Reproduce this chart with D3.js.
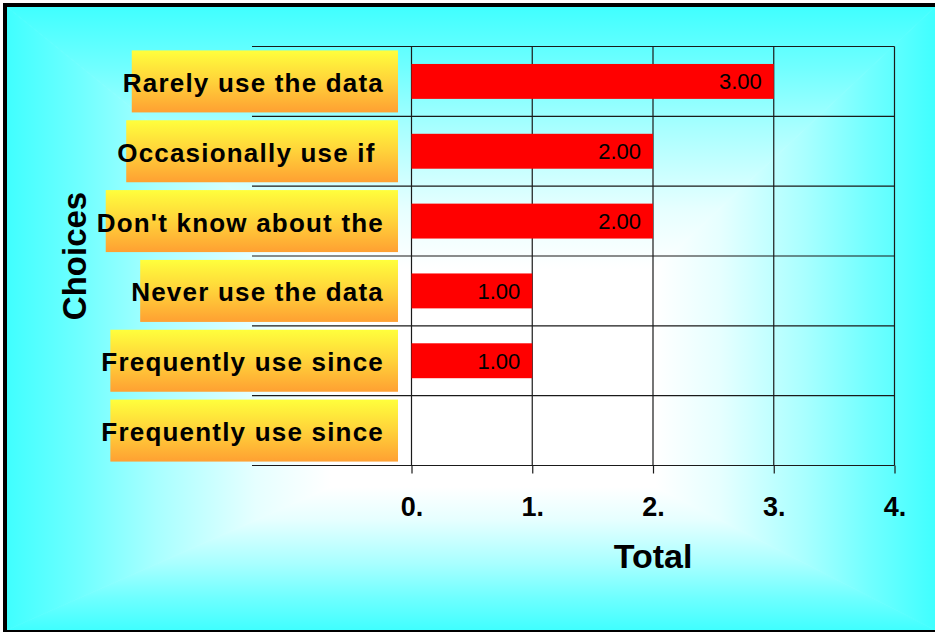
<!DOCTYPE html>
<html>
<head>
<meta charset="utf-8">
<script src="https://cdn.jsdelivr.net/npm/d3@7"></script>
<style>
  body { margin: 0; background: #fff; }
  svg { display: block; font-family: Arial, "Liberation Sans", sans-serif; }
</style>
</head>
<body>
<div id="chart"></div>
<script>
// Chart data
const categories = ["Rarely use the data", "Occasionally use if ", "Don't know about the",
                    "Never use the data", "Frequently use since", "Frequently use since"];
const totals = [3, 2, 2, 1, 1, 0];
const tickValues = [0, 1, 2, 3, 4];
const xTitle = "Total";
const yTitle = "Choices";

const W = 935, H = 632;

const svg = d3.select("#chart")
  .append("svg")
  .attr("width", W)
  .attr("height", H);

const defs = svg.append("defs");

// Rectangular "from center" background gradient, built from four triangles
const frame = { left: 7, top: 7, right: 935, bottom: 630 };
const c = { x: 505, y: 410 };
const bgStops = [
  [0, "#ffffff"], [0.35, "#ffffff"], [0.5, "#e6ffff"],
  [0.7, "#a8ffff"], [0.85, "#70ffff"], [1, "#40ffff"]
];
const sides = [
  { id: "bgTop", x2: c.x, y2: frame.top,
    pts: [[frame.left, frame.top], [frame.right, frame.top], [c.x, c.y]] },
  { id: "bgBottom", x2: c.x, y2: frame.bottom,
    pts: [[frame.left, frame.bottom], [frame.right, frame.bottom], [c.x, c.y]] },
  { id: "bgLeft", x2: frame.left, y2: c.y,
    pts: [[frame.left, frame.top], [frame.left, frame.bottom], [c.x, c.y]] },
  { id: "bgRight", x2: frame.right, y2: c.y,
    pts: [[frame.right, frame.top], [frame.right, frame.bottom], [c.x, c.y]] }
];
sides.forEach(function(s) {
  const g = defs.append("linearGradient")
    .attr("id", s.id)
    .attr("gradientUnits", "userSpaceOnUse")
    .attr("x1", c.x).attr("y1", c.y)
    .attr("x2", s.x2).attr("y2", s.y2);
  bgStops.forEach(function(st) {
    g.append("stop").attr("offset", st[0]).attr("stop-color", st[1]);
  });
});
svg.append("g").selectAll("polygon")
  .data(sides)
  .enter().append("polygon")
  .attr("points", d => d.pts.map(p => p.join(",")).join(" "))
  .attr("fill", d => "url(#" + d.id + ")")
  .attr("stroke", d => "url(#" + d.id + ")")
  .attr("stroke-width", 0.8);

// Label box gradient (yellow to orange)
const boxGrad = defs.append("linearGradient")
  .attr("id", "boxGrad")
  .attr("x1", 0).attr("y1", 0).attr("x2", 0).attr("y2", 1);
boxGrad.append("stop").attr("offset", 0).attr("stop-color", "#ffff3c");
boxGrad.append("stop").attr("offset", 0.5).attr("stop-color", "#ffd23a");
boxGrad.append("stop").attr("offset", 1).attr("stop-color", "#ffa032");

// Outer black frame
svg.append("rect")
  .attr("x", 5).attr("y", 5)
  .attr("width", 935).attr("height", 627)
  .attr("fill", "none")
  .attr("stroke", "#000")
  .attr("stroke-width", 4);

// Scales
const x = d3.scaleLinear()
  .domain([0, 4])
  .range([411.5, 894.5]);

const y = d3.scaleBand()
  .domain(d3.range(categories.length))
  .range([46.5, 465.5])
  .paddingInner(0.5)
  .paddingOuter(0.25);

const step = y.step();
const bandTop = i => y(i) - step * 0.25;

// Horizontal grid lines (category boundaries), extending left behind labels
const hLines = d3.range(categories.length + 1).map(i =>
  i < categories.length ? bandTop(i) : y.range()[1]);
svg.append("g").selectAll("line")
  .data(hLines)
  .enter().append("line")
  .attr("x1", 252).attr("x2", x(4))
  .attr("y1", d => d).attr("y2", d => d)
  .attr("stroke", "#1a1a1a")
  .attr("stroke-width", 1.2);

// Vertical grid lines
svg.append("g").selectAll("line")
  .data(tickValues)
  .enter().append("line")
  .attr("x1", d => x(d)).attr("x2", d => x(d))
  .attr("y1", y.range()[0]).attr("y2", y.range()[1])
  .attr("stroke", "#1a1a1a")
  .attr("stroke-width", 1.2);

// Bottom axis: ticks and labels
const xAxis = svg.append("g")
  .attr("transform", "translate(0," + y.range()[1] + ")")
  .call(d3.axisBottom(x).tickValues(tickValues).tickSize(8).tickFormat(d => d + "."));
xAxis.select(".domain").remove();
xAxis.selectAll(".tick line").attr("stroke", "#1a1a1a").attr("stroke-width", 1.2);
xAxis.selectAll(".tick text")
  .attr("y", 50).attr("dy", null)
  .attr("fill", "#000")
  .style("font-size", "27px")
  .style("font-weight", "bold")
  .style("font-family", "Arial, 'Liberation Sans', sans-serif");

// Bars
const rows = categories.map((name, i) => ({ i: i, name: name, value: totals[i] }));

svg.append("g").selectAll("rect")
  .data(rows.filter(d => d.value > 0))
  .enter().append("rect")
  .attr("x", x(0))
  .attr("y", d => y(d.i))
  .attr("width", d => x(d.value) - x(0))
  .attr("height", y.bandwidth())
  .attr("fill", "#ff0000");

// Value labels inside bars
svg.append("g").selectAll("text")
  .data(rows.filter(d => d.value > 0))
  .enter().append("text")
  .attr("x", d => x(d.value) - 12)
  .attr("y", d => y(d.i) + y.bandwidth() / 2 + 8)
  .attr("text-anchor", "end")
  .style("font-size", "22px")
  .attr("fill", "#000")
  .text(d => d3.format(".2f")(d.value));

// Category labels with gradient boxes
const labelG = svg.append("g");
rows.forEach(function(d) {
  const cy = y(d.i) + y.bandwidth() / 2;
  const g = labelG.append("g");
  const box = g.append("rect");
  const t = g.append("text")
    .attr("x", 384)
    .attr("y", cy + 10.5)
    .attr("text-anchor", "end")
    .style("white-space", "pre")
    .style("font-size", "26px")
    .style("letter-spacing", "1.2px")
    .style("font-weight", "bold")
    .attr("fill", "#000")
    .text(d.name);
  const len = t.node().getComputedTextLength();
  const left = 384 - len + 9;
  box.attr("x", left)
    .attr("y", cy - 31)
    .attr("width", 398 - left)
    .attr("height", 62)
    .attr("fill", "url(#boxGrad)");
});

// Axis titles
svg.append("text")
  .attr("x", (x(0) + x(4)) / 2)
  .attr("y", 568)
  .attr("text-anchor", "middle")
  .style("font-size", "34px")
  .style("font-weight", "bold")
  .text(xTitle);

svg.append("text")
  .attr("transform", "translate(86," + (y.range()[0] + y.range()[1]) / 2 + ") rotate(-90)")
  .attr("text-anchor", "middle")
  .style("font-size", "33px")
  .style("font-weight", "bold")
  .text(yTitle);
</script>
</body>
</html>
